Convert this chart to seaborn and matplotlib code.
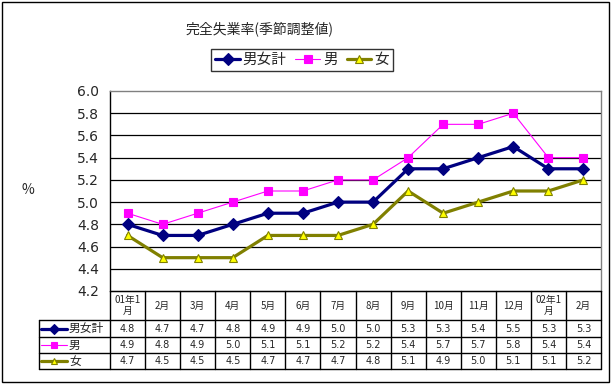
import seaborn as sns
import pandas as pd
import numpy as np
from matplotlib import pyplot as plt
from matplotlib.lines import Line2D
from matplotlib.patches import Rectangle

months = ['01年1\n月', '2月', '3月', '4月', '5月', '6月', '7月', '8月',
          '9月', '10月', '11月', '12月', '02年1\n月', '2月']
total = [4.8, 4.7, 4.7, 4.8, 4.9, 4.9, 5.0, 5.0, 5.3, 5.3, 5.4, 5.5, 5.3, 5.3]
male = [4.9, 4.8, 4.9, 5.0, 5.1, 5.1, 5.2, 5.2, 5.4, 5.7, 5.7, 5.8, 5.4, 5.4]
female = [4.7, 4.5, 4.5, 4.5, 4.7, 4.7, 4.7, 4.8, 5.1, 4.9, 5.0, 5.1, 5.1, 5.2]
series_names = ['男女計', '男', '女']
yticks = [4.2, 4.4, 4.6, 4.8, 5.0, 5.2, 5.4, 5.6, 5.8, 6.0]

sns.set_style('white')
plt.rcParams['font.family'] = ['Noto Sans CJK JP', 'DejaVu Sans']

df = pd.DataFrame({'idx': range(len(months)), '男女計': total, '男': male, '女': female})

# styles per series
styles = {
    '男女計': dict(color='#000080', lw=2.3, marker='D', ms=6, mfc='#000080', mec='#000080'),
    '男': dict(color='#FF00FF', lw=0.8, marker='s', ms=6, mfc='#FF00FF', mec='#FF00FF'),
    '女': dict(color='#808000', lw=2.3, marker='^', ms=6, mfc='#FFFF00', mec='#808000'),
}

W, H = 615, 384
fig = plt.figure(figsize=(6.15, 3.84), dpi=100)

# plot area in pixels
px_l, px_r, px_t, px_b = 110, 601, 91, 291
ax = fig.add_axes([px_l / W, 1 - px_b / H, (px_r - px_l) / W, (px_b - px_t) / H])

for name in series_names:
    st = styles[name]
    sns.lineplot(data=df, x='idx', y=name, ax=ax, color=st['color'], linewidth=st['lw'],
                 marker=st['marker'], markersize=st['ms'], markerfacecolor=st['mfc'],
                 markeredgecolor=st['mec'], markeredgewidth=0.8, label=name, zorder=3)

ax.set_xlim(-0.5, len(months) - 0.5)
ax.set_ylim(4.2, 6.0)
ax.set_yticks(yticks)
ax.set_yticklabels(['%.1f' % v for v in yticks], fontsize=10, family='DejaVu Sans')
ax.set_xticks([])
ax.set_xlabel('')
ax.set_ylabel('')
for v in yticks[1:-1]:
    ax.axhline(v, color='black', lw=0.9, zorder=1)
ax.tick_params(axis='y', length=0, pad=8)
ax.spines['left'].set_color('black')
ax.spines['left'].set_linewidth(1)
for s in ['top', 'right']:
    ax.spines[s].set_color('#808080')
    ax.spines[s].set_linewidth(1)
ax.spines['bottom'].set_color('black')

handles, labels = ax.get_legend_handles_labels()
ax.legend_.remove()
leg = fig.legend(handles, labels, ncol=3, loc='center', bbox_to_anchor=(302 / W, 1 - 60 / H),
                 frameon=True, fancybox=False, edgecolor='black', fontsize=10.5,
                 handlelength=1.7, handletextpad=0.2, columnspacing=0.6,
                 borderpad=0.3, borderaxespad=0)
leg.get_frame().set_linewidth(1)

fig.text(260 / W, 1 - 29 / H, '完全失業率(季節調整値)', ha='center', va='center', fontsize=10)
fig.text(28 / W, 1 - 190 / H, '%', ha='center', va='center', fontsize=10)

# data table drawn in a pixel-coordinate overlay
tx = fig.add_axes([0, 0, 1, 1], zorder=5)
tx.set_xlim(0, W)
tx.set_ylim(H, 0)
tx.axis('off')

col_w = (px_r - px_l) / len(months)
row_y = [291, 320, 337, 353, 369]
lab_l = 39
# horizontal lines
tx.plot([px_l, px_r], [row_y[0], row_y[0]], color='black', lw=1)
for y in row_y[1:]:
    tx.plot([lab_l, px_r], [y, y], color='black', lw=1)
# vertical lines
tx.plot([lab_l, lab_l], [row_y[1], row_y[-1]], color='black', lw=1)
for i in range(len(months) + 1):
    x = px_l + i * col_w
    tx.plot([x, x], [row_y[0], row_y[-1]], color='black', lw=1)

for i, m in enumerate(months):
    cx = px_l + (i + 0.5) * col_w
    tx.text(cx, (row_y[0] + row_y[1]) / 2, m, ha='center', va='center', fontsize=7, linespacing=1.1)

for r, (name, vals) in enumerate(zip(series_names, [total, male, female])):
    cy = (row_y[r + 1] + row_y[r + 2]) / 2
    st = styles[name]
    tx.add_line(Line2D([lab_l + 2, lab_l + 28], [cy, cy], color=st['color'], lw=st['lw']))
    tx.plot([lab_l + 15], [cy], marker=st['marker'], ms=st['ms'] - 1, mfc=st['mfc'],
            mec=st['mec'], mew=0.8, color=st['color'])
    tx.text(lab_l + 30, cy, name, ha='left', va='center', fontsize=8.5)
    for i, v in enumerate(vals):
        cx = px_l + (i + 0.5) * col_w
        tx.text(cx, cy, '%.1f' % v, ha='center', va='center', fontsize=7, family='DejaVu Sans')

# outer chart frame
tx.add_patch(Rectangle((1.5, 1.5), 607, 380, fill=False, edgecolor='black', lw=1))

fig.savefig('out.png', dpi=100)
